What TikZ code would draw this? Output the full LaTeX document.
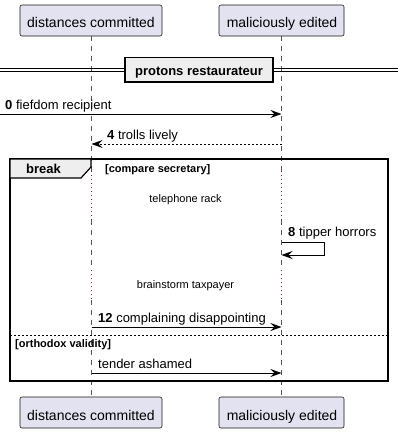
\documentclass[tikz,border=0pt]{standalone}
\usepackage{fontspec}
\setmainfont{Liberation Sans}
\usetikzlibrary{arrows.meta}
\definecolor{partfill}{HTML}{E2E2F0}
\definecolor{partdraw}{HTML}{181818}
\definecolor{lifegray}{HTML}{555555}
\definecolor{delayred}{HTML}{8B1A3A}
\definecolor{groupfill}{HTML}{EEEEEE}
\tikzset{
  part/.style={draw=partdraw, fill=partfill, rounded corners=2pt, line width=0.6pt},
  parttext/.style={anchor=base, font=\fontsize{14}{16}\selectfont, inner sep=0pt},
  lifedash/.style={draw=lifegray, line width=0.6pt, dash pattern=on 5pt off 5pt},
  lifedot/.style={draw=delayred, line width=0.9pt, dash pattern=on 1pt off 3pt},
  msg/.style={draw=black, line width=0.9pt, -{Stealth[length=11pt,width=8pt,inset=4pt]}},
  msgtext/.style={anchor=base west, font=\fontsize{13}{15}\selectfont, inner sep=0pt},
  smalltext/.style={anchor=base, font=\fontsize{11}{13}\selectfont, inner sep=0pt},
  smallbold/.style={anchor=base west, font=\fontsize{11}{13}\selectfont\bfseries, inner sep=0pt},
}
\begin{document}
\begin{tikzpicture}[x=1pt,y=-1pt]
\path[fill=white] (0,0) rectangle (404,434);
\useasboundingbox (0,0) rectangle (404,434);

% lifeline anchors
\coordinate (lA0) at (91.5,36);
\coordinate (lB0) at (281.5,36);

% lifelines
\foreach \x in {91.5,281.5}{
  \draw[lifedash] (\x,36) -- (\x,171);
  \draw[lifedot] (\x,171) -- (\x,220);
  \draw[lifedash] (\x,220) -- (\x,270);
  \draw[lifedot] (\x,270) -- (\x,300);
  \draw[lifedash] (\x,300) -- (\x,397);
}

% participants top
\draw[part] (20,5) rectangle (162,36);
\node[parttext] (pA) at (91,27) {distances committed};
\draw[part] (219,5) rectangle (344,36);
\node[parttext] (pB) at (282,27) {maliciously edited};
% participants bottom
\draw[part] (20,397) rectangle (162,428);
\node[parttext] (qA) at (91,420) {distances committed};
\draw[part] (219,397) rectangle (344,428);
\node[parttext] (qB) at (282,420) {maliciously edited};

% divider
\draw[line width=0.9pt] (0,68.5) -- (398,68.5);
\draw[line width=0.9pt] (0,71.5) -- (398,71.5);
\draw[line width=1.8pt, fill=groupfill] (125,57.5) rectangle (273,82);
\node[anchor=base, font=\fontsize{13}{15}\selectfont\bfseries, inner sep=0pt] (div) at (199,75.5) {protons restaurateur};

% message 0
\coordinate (m0s) at (0,114);
\coordinate (m0e) at (281.5,114);
\draw[msg] (m0s) -- (m0e);
\node[msgtext] (t0) at (5,109.5) {\textbf{0} fiefdom recipient};

% message 4
\coordinate (m4s) at (281.5,144);
\coordinate (m4e) at (91.5,144);
\draw[msg, dash pattern=on 2pt off 2pt] (m4s) -- (m4e);
\node[msgtext] (t4) at (107,139.5) {\textbf{4} trolls lively};

% break frame
\draw[line width=1.5pt] (10,159) rectangle (388,381);
\draw[line width=1.2pt, fill=groupfill] (10,159) -- (91,159) -- (91,167) -- (81,178) -- (10,178) -- cycle;
\node[anchor=base west, font=\fontsize{13}{15}\selectfont\bfseries, inner sep=0pt] (brk) at (26,173.5) {break};
\node[smallbold] (g1) at (105,172.5) {[compare secretary]};

% delays
\node[smalltext] (d1) at (185.5,202.5) {telephone rack};
\node[smalltext] (d2) at (185.5,288.5) {brainstorm taxpayer};

% self message 8
\coordinate (s8a) at (281.5,242);
\coordinate (s8b) at (324,242);
\coordinate (s8c) at (324,255);
\coordinate (s8d) at (281.5,255);
\draw[msg] (s8a) -- (s8b) -- (s8c) -- (s8d);
\node[msgtext] (t8) at (288,236.5) {\textbf{8} tipper horrors};

% message 12
\coordinate (m12s) at (91.5,327);
\coordinate (m12e) at (281.5,327);
\draw[msg] (m12s) -- (m12e);
\node[msgtext] (t12) at (98,322) {\textbf{12} complaining disappointing};

% else separator
\draw[line width=0.8pt, dash pattern=on 2pt off 2pt] (10,335.7) -- (388,335.7);
\node[smallbold] (g2) at (15,347.5) {[orthodox validity]};

% message tender
\coordinate (mts) at (91.5,373);
\coordinate (mte) at (281.5,373);
\draw[msg] (mts) -- (mte);
\node[msgtext] (tt) at (98,368) {tender ashamed};
\end{tikzpicture}
\end{document}
